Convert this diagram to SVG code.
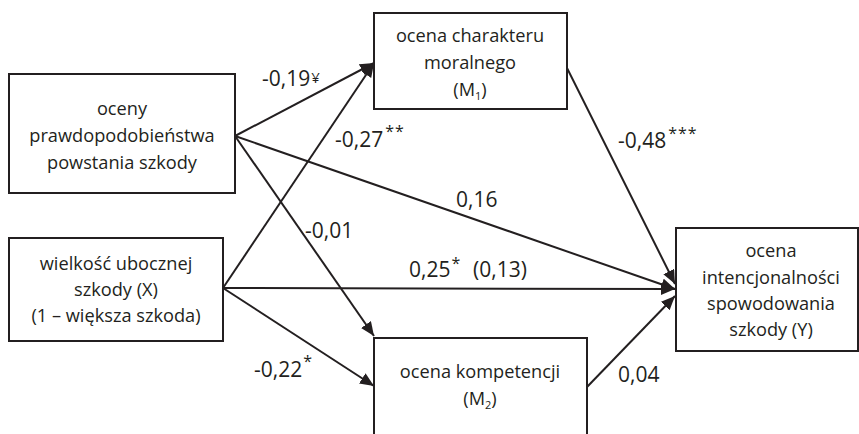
<svg xmlns="http://www.w3.org/2000/svg" width="859" height="434" viewBox="0 0 859 434">
<style>
.box{fill:#fff;stroke:#231f20;stroke-width:2}
.t{font-family:"Open Sans","Noto Sans","DejaVu Sans",sans-serif;font-size:18.2px;fill:#231f20;text-anchor:middle}
.l{font-family:"Open Sans","Noto Sans","DejaVu Sans",sans-serif;font-size:21px;fill:#231f20}
.sup{font-size:16px;letter-spacing:1px}
.yen{font-size:15px}
.sub{font-size:11px}
.c{stroke:#231f20;stroke-width:2;fill:none;marker-end:url(#ah)}
</style>
<defs>
<marker id="ah" markerUnits="userSpaceOnUse" markerWidth="16" markerHeight="14" refX="14" refY="6" orient="auto">
<path d="M0,0 L14,6 L0,12 z" fill="#231f20"/>
</marker>
</defs>
<rect width="859" height="434" fill="#fff"/>
<g id="connectors">
<line class="c" x1="235" y1="136" x2="374" y2="63"/>
<line class="c" x1="223" y1="288" x2="374" y2="63"/>
<line class="c" x1="235" y1="136" x2="675" y2="289"/>
<line class="c" x1="235" y1="136" x2="374" y2="336"/>
<line class="c" x1="223" y1="288" x2="675" y2="289"/>
<line class="c" x1="223" y1="288" x2="374" y2="386"/>
<line class="c" x1="567" y1="68" x2="675" y2="284"/>
<line class="c" x1="587" y1="387" x2="675" y2="296"/>
</g>
<g id="labels">
<text class="l" x="262" y="86">-0,19<tspan class="yen" dx="1" dy="-3">¥</tspan></text>
<text class="l" x="335" y="147">-0,27<tspan class="sup" dx="2" dy="-10">**</tspan></text>
<text class="l" x="456" y="207">0,16</text>
<text class="l" x="305" y="238">-0,01</text>
<text class="l" x="409" y="277">0,25<tspan class="sup" dx="1" dy="-8">*</tspan></text>
<text class="l" x="473" y="277">(0,13)</text>
<text class="l" x="618" y="148">-0,48<tspan class="sup" dx="2" dy="-9">***</tspan></text>
<text class="l" x="254" y="377">-0,22<tspan class="sup" dx="1" dy="-10">*</tspan></text>
<text class="l" x="618" y="382">0,04</text>
</g>
<g id="node-prawdopodobienstwo">
<rect class="box" x="9" y="74" width="226" height="119"/>
<text class="t" x="122" y="115">oceny</text>
<text class="t" x="122" y="142">prawdopodobieństwa</text>
<text class="t" x="122" y="169">powstania szkody</text>
</g>
<g id="node-m1">
<rect class="box" x="374" y="13" width="193" height="96"/>
<text class="t" x="470" y="42">ocena charakteru</text>
<text class="t" x="470" y="69">moralnego</text>
<text class="t" x="470" y="96">(M<tspan class="sub" dy="4">1</tspan><tspan dy="-4">)</tspan></text>
</g>
<g id="node-x">
<rect class="box" x="9" y="238" width="214" height="103"/>
<text class="t" x="116" y="270">wielkość ubocznej</text>
<text class="t" x="116" y="296">szkody (X)</text>
<text class="t" x="116" y="322">(1 – większa szkoda)</text>
</g>
<g id="node-m2">
<rect class="box" x="374" y="338" width="213" height="110"/>
<text class="t" x="480" y="378">ocena kompetencji</text>
<text class="t" x="480" y="405">(M<tspan class="sub" dy="4">2</tspan><tspan dy="-4">)</tspan></text>
</g>
<g id="node-y">
<rect class="box" x="676" y="228" width="182" height="123"/>
<text class="t" x="771" y="257">ocena</text>
<text class="t" x="771" y="284">intencjonalności</text>
<text class="t" x="771" y="310">spowodowania</text>
<text class="t" x="771" y="336">szkody (Y)</text>
</g>
</svg>
